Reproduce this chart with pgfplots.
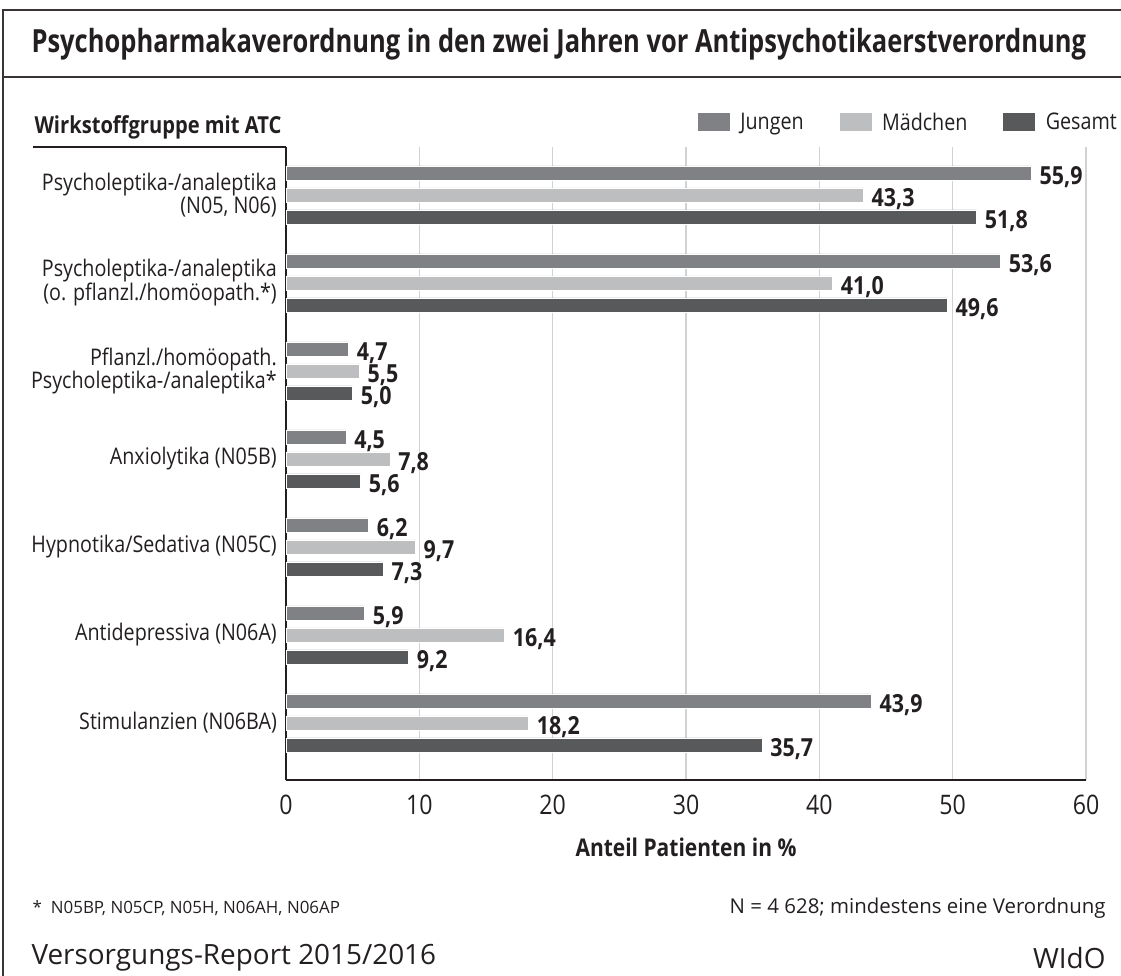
\documentclass[border=0pt]{standalone}
\usepackage{pgfplots}
\pgfplotsset{compat=1.18}
\usepackage{fontspec}
\setmainfont{Open Sans}[FakeStretch=0.86]
\newfontfamily\widefont{Open Sans}
\newfontfamily\titlefont{Open Sans}[FakeStretch=0.8]
\definecolor{cJ}{HTML}{808184}
\definecolor{cM}{HTML}{BDBEC0}
\definecolor{cG}{HTML}{58595B}
\definecolor{cGrid}{HTML}{D1D2D4}
\definecolor{cTxt}{HTML}{231F20}
\newcommand{\fs}[1]{\fontsize{#1}{#1}\selectfont}
\begin{document}
\begin{tikzpicture}[x=1bp,y=1bp,text=cTxt]
% frame
\draw[line width=2bp,cTxt!90] (3,0) -- (3,966) -- (1121,966);
\draw[line width=2bp,cTxt!90] (3,899) -- (1121,899);
\node[anchor=west,font=\titlefont\bfseries\fs{32}] at (28,932) {Psychopharmakaverordnung in den zwei Jahren vor Antipsychotikaerstverordnung};
\node[anchor=west,font=\bfseries\fs{23.5}] at (31,849) {Wirkstoffgruppe mit ATC};
\draw[line width=1.8bp,cTxt] (33,829) -- (286,829);
\begin{axis}[
  at={(286bp,253bp)}, anchor=origin,
  scale only axis, width=800bp, height=633bp,
  xbar, bar width=14bp, bar shift=0pt,
  xmin=0, xmax=60, ymin=-0.648, ymax=6.545,
  axis x line=bottom, axis y line=left,
  axis line style={-, line width=1.8bp, cTxt},
  xtick={0,10,...,60}, major tick length=0pt,
  xmajorgrids, major grid style={cGrid, line width=1.5bp},
  ytick={0,...,6},
  yticklabels={{Stimulanzien (N06BA)},{Antidepressiva (N06A)},{Hypnotika/Sedativa (N05C)},{Anxiolytika (N05B)},{Pflanzl./homöopath.\\Psycholeptika-/analeptika*},{Psycholeptika-/analeptika\\(o. pflanzl./homöopath.*)},{Psycholeptika-/analeptika\\(N05, N06)}},
  yticklabel style={align=right, font=\fs{23}, inner sep=0pt, xshift=-9bp},
  xticklabel style={font=\fs{27}, inner sep=0pt, yshift=-15bp},
  /pgf/number format/assume math mode=true,
  xlabel={\bfseries Anteil Patienten in \%},
  xlabel style={font=\fs{24.5}, inner sep=0pt, yshift=-23bp},
  nodes near coords={\pgfmathprintnumber[fixed,fixed zerofill,precision=1,use comma]{\pgfplotspointmeta}},
  nodes near coords align=horizontal,
  every node near coord/.append style={font=\bfseries\fs{25}, anchor=west, inner sep=0pt, xshift=8bp, yshift=-4bp, text=cTxt},
  legend columns=3,
  legend style={at={(rel axis cs:1,1)}, anchor=south east, xshift=33bp, yshift=13bp, draw=none, fill=none, font=\fs{23}, inner sep=0pt,
    /tikz/every even column/.append style={column sep=34bp}},
  legend image code/.code={\fill[#1,draw=none] (0bp,-9bp) rectangle (32bp,9bp); \path (40bp,0bp);},
  clip=false,
]
\addplot[fill=cJ, draw=white, line width=0.6bp, bar shift=0pt] coordinates {(55.9,6.25) (53.6,5.25) (4.7,4.25) (4.5,3.25) (6.2,2.25) (5.9,1.25) (43.9,0.25)};
\addlegendentry{Jungen}
\addplot[fill=cM, draw=white, line width=0.6bp, bar shift=0pt] coordinates {(43.3,6) (41.0,5) (5.5,4) (7.8,3) (9.7,2) (16.4,1) (18.2,0)};
\addlegendentry{Mädchen}
\addplot[fill=cG, draw=white, line width=0.6bp, bar shift=0pt] coordinates {(51.8,5.75) (49.6,4.75) (5.0,3.75) (5.6,2.75) (7.3,1.75) (9.2,0.75) (35.7,-0.25)};
\addlegendentry{Gesamt}
\end{axis}
\node[anchor=west,font=\widefont\fs{17}] at (29,68) {*\hspace{9bp}N05BP, N05CP, N05H, N06AH, N06AP};
\node[anchor=east,font=\widefont\fs{20.5}] at (1109,68) {N = 4 628; mindestens eine Verordnung};
\node[anchor=west,font=\widefont\fs{28}] at (28,18) {Versorgungs-Report 2015/2016};
\node[anchor=east,font=\widefont\fs{28}] at (1109,18) {WIdO};
\pgfresetboundingbox
\path (0,0) rectangle (1121,976);
\end{tikzpicture}
\end{document}
